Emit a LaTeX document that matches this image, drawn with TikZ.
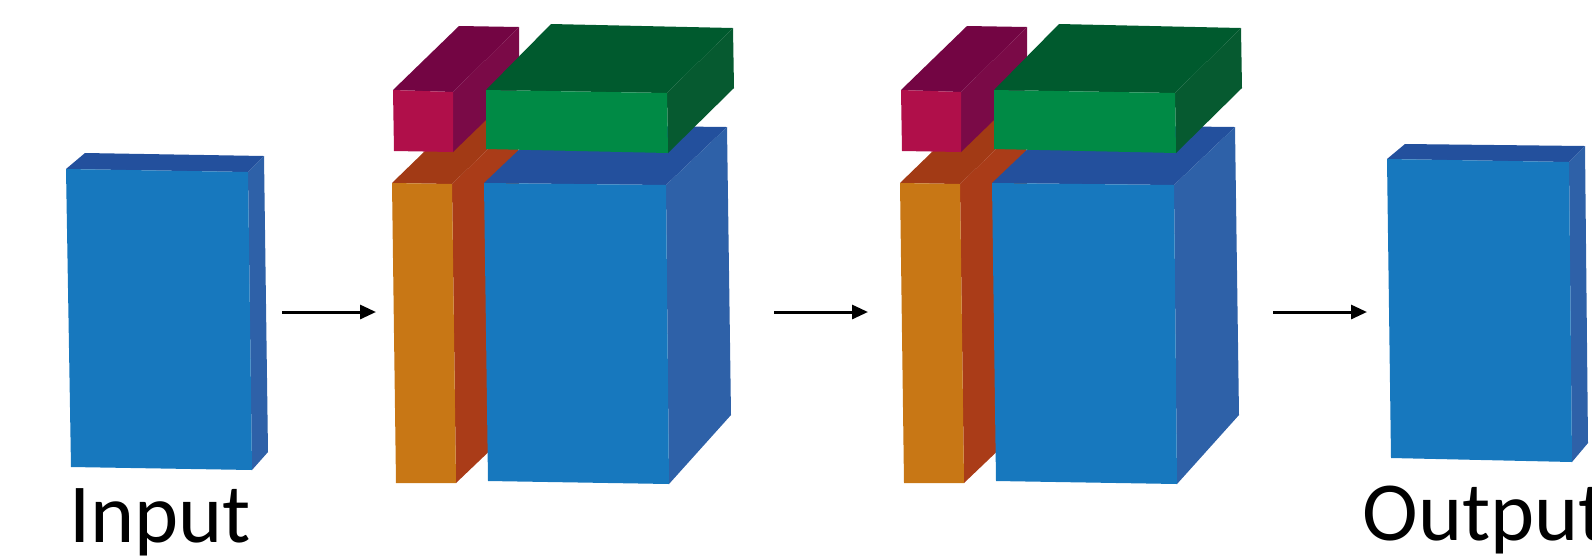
\documentclass[tikz,border=0pt]{standalone}
\usepackage{fontspec}
\setmainfont{Carlito}
\usetikzlibrary{arrows.meta}
\definecolor{bfront}{HTML}{1778BE}
\definecolor{btop}{HTML}{23509D}
\definecolor{bside}{HTML}{2E61A8}
\definecolor{ofront}{HTML}{C87715}
\definecolor{otop}{HTML}{A23A15}
\definecolor{oside}{HTML}{AA3C18}
\definecolor{mfront}{HTML}{B00F4A}
\definecolor{mtop}{HTML}{730543}
\definecolor{mside}{HTML}{7A0A47}
\definecolor{gfront}{HTML}{008A45}
\definecolor{gtop}{HTML}{005A2E}
\definecolor{gside}{HTML}{065A30}
\tikzset{
  flow/.style={line width=1.5pt,-{Triangle[length=8pt,width=7pt]}},
  label/.style={inner sep=0pt,anchor=base west,font=\fontsize{42}{50}\selectfont}
}
\begin{document}
\begin{tikzpicture}[x=0.5pt,y=-0.5pt]
\useasboundingbox (0,0) rectangle (1592,559);
% input block
\fill[btop] (66,169) -- (248,172) -- (264,156) -- (85,153) -- cycle;
\fill[bside] (248,172) -- (264,156) -- (268,452) -- (252,470) -- cycle;
\fill[bfront] (66,169) -- (248,172) -- (252,470) -- (71,467) -- cycle;
% output block
\fill[btop] (1387,159) -- (1569,162) -- (1585,146) -- (1405,144) -- cycle;
\fill[bside] (1569,162) -- (1585,146) -- (1588,443) -- (1572,462) -- cycle;
\fill[bfront] (1387,159) -- (1569,162) -- (1572,462) -- (1391,458) -- cycle;
% middle blocks
\foreach \s in {0,508} {
\begin{scope}[xshift=\s*0.5pt]
% orange
\fill[otop] (392,183) -- (452,184) -- (518,120) -- (458,119) -- cycle;
\fill[oside] (452,184) -- (518,120) -- (522,420) -- (456,483) -- cycle;
\fill[ofront] (392,183) -- (452,184) -- (456,483) -- (396,483) -- cycle;
% blue
\fill[btop] (484,183) -- (666,185) -- (727,127) -- (545,125) -- cycle;
\fill[bside] (666,185) -- (727,127) -- (731,415) -- (669,484) -- cycle;
\fill[bfront] (484,183) -- (666,185) -- (669,484) -- (488,481) -- cycle;
% magenta
\fill[mtop] (393,90) -- (453,92) -- (519,27) -- (459,26) -- cycle;
\fill[mside] (453,92) -- (519,27) -- (519,88) -- (453,152) -- cycle;
\fill[mfront] (393,90) -- (453,92) -- (453,152) -- (394,151) -- cycle;
% green
\fill[gtop] (486,90) -- (667,93) -- (733,28) -- (551,24) -- cycle;
\fill[gside] (667,93) -- (733,28) -- (734,88) -- (668,153) -- cycle;
\fill[gfront] (486,90) -- (667,93) -- (668,153) -- (486,149) -- cycle;
\end{scope}
}
% arrows
\coordinate (a1s) at (282,312);
\coordinate (a1e) at (376,312);
\coordinate (a2s) at (774,312);
\coordinate (a2e) at (868,312);
\coordinate (a3s) at (1273,312);
\coordinate (a3e) at (1367,312);
\draw[flow] (a1s) -- (a1e);
\draw[flow] (a2s) -- (a2e);
\draw[flow] (a3s) -- (a3e);
% labels
\node[label] (input) at (69,542) {Input};
\node[label] (output) at (1362,540) {Output};
\end{tikzpicture}
\end{document}
